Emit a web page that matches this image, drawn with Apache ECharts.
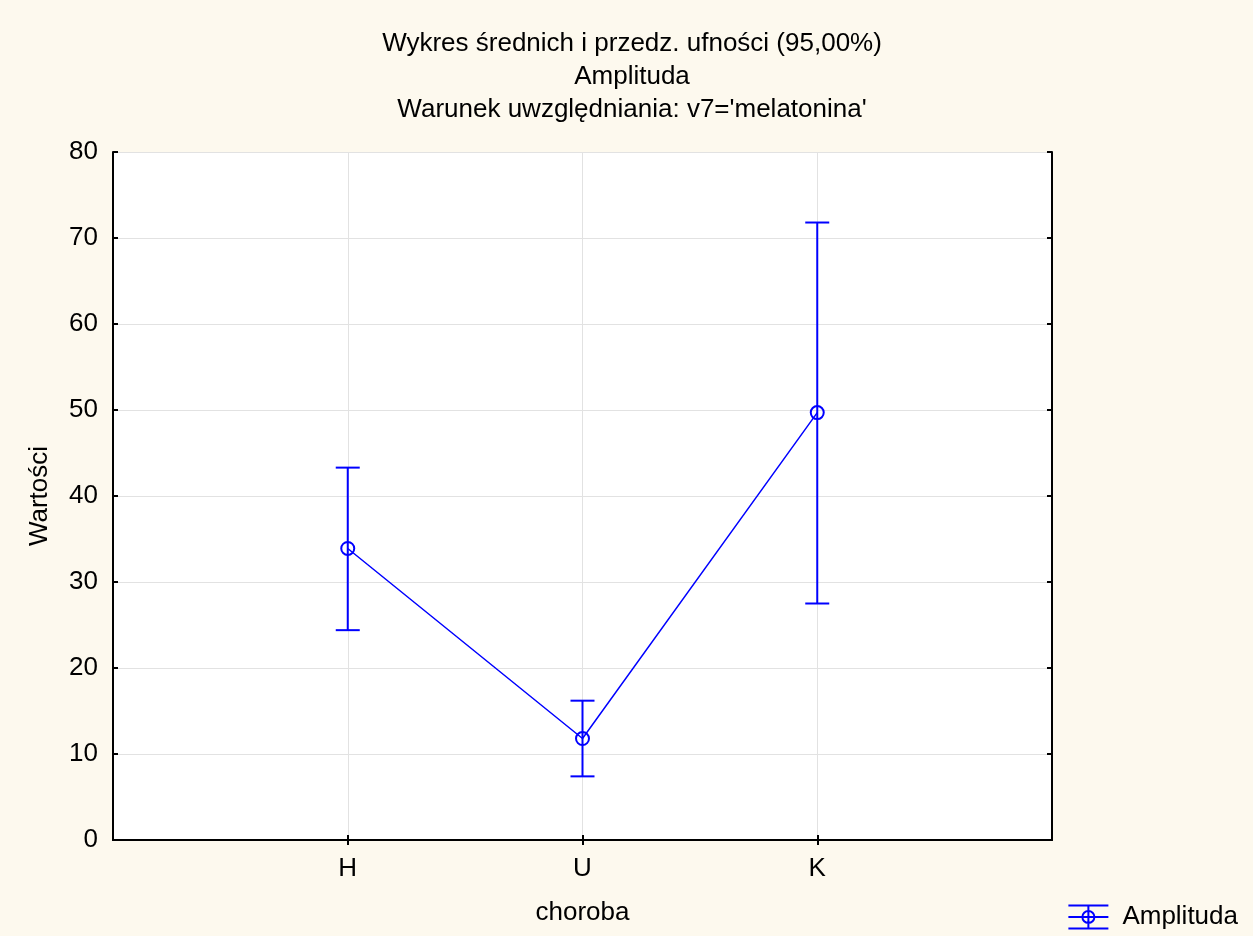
<!DOCTYPE html>
<html>
<head>
<meta charset="utf-8">
<script src="https://cdn.jsdelivr.net/npm/echarts@6/dist/echarts.min.js"></script>
<style>
    html, body { margin: 0; padding: 0; background: #fdf9ee; }
    #ET1 { width: 1253px; height: 936px; }
</style>
</head>
<body>
<div id="ET1"></div>
<script>
var categories = ['H', 'U', 'K'];
var means = [33.9, 11.8, 49.7];
var lower = [24.4, 7.4, 27.5];
var upper = [43.3, 16.2, 71.8];
var yTicks = [0, 10, 20, 30, 40, 50, 60, 70, 80];

~function () {
    var myChart = echarts.init(ET1);
    // pad categories so the points sit at 1/4, 2/4, 3/4 of the width
    var axisCats = [''].concat(categories).concat(['']);
    var font = 'Liberation Sans, Arial, sans-serif';
    var blue = '#0000ff';
    var lineData = means.map(function (v, i) { return [i + 1, v]; });
    var errData = means.map(function (v, i) { return [i + 1, lower[i], upper[i]]; });
    var legendIcon = 'path://M0,1 L40,1 M0,24 L40,24 M0,12.5 L40,12.5 M20,1 L20,24 M26,12.5 A6,6 0 1,1 14,12.5 A6,6 0 1,1 26,12.5';
    var inner = function (i) { return i > 0 && i < axisCats.length - 1; };

    var option = {
        backgroundColor: '#fdf9ee',
        animation: false,
        title: {
            text: 'Wykres średnich i przedz. ufności (95,00%)\nAmplituda\nWarunek uwzględniania: v7=\'melatonina\'',
            left: 627,
            top: 22,
            textAlign: 'center',
            textStyle: {
                fontFamily: font,
                fontSize: 26,
                fontWeight: 'normal',
                color: '#000',
                lineHeight: 33
            }
        },
        legend: {
            right: 10,
            bottom: 0,
            data: [{name: 'Amplituda', icon: legendIcon}],
            itemWidth: 40,
            itemHeight: 24,
            itemGap: 6,
            itemStyle: {color: 'none', borderColor: blue, borderWidth: 2},
            textStyle: {fontFamily: font, fontSize: 26, color: '#000', padding: [0, 0, 0, 9]},
            selectedMode: false
        },
        grid: {
            left: 113,
            right: 201,
            top: 152,
            bottom: 96,
            show: true,
            backgroundColor: '#fff',
            borderWidth: 0
        },
        xAxis: [
            {
                type: 'category',
                data: axisCats,
                boundaryGap: false,
                name: 'choroba',
                nameLocation: 'middle',
                nameGap: 60,
                nameTextStyle: {fontFamily: font, fontSize: 26, color: '#000'},
                axisLine: {lineStyle: {color: '#000', width: 2}},
                axisTick: {inside: true, length: 5, lineStyle: {color: '#000', width: 2}, interval: inner},
                axisLabel: {fontFamily: font, fontSize: 26, color: '#000', margin: 16, interval: 0},
                splitLine: {show: true, lineStyle: {color: '#e2e2e2', width: 1}, interval: inner}
            },
            {
                type: 'category',
                data: axisCats,
                boundaryGap: false,
                position: 'top',
                axisLine: {lineStyle: {color: '#000', width: 2}},
                axisTick: {inside: true, length: 5, lineStyle: {color: '#000', width: 2}, interval: inner},
                axisLabel: {show: false},
                splitLine: {show: false}
            }
        ],
        yAxis: [
            {
                type: 'value',
                min: yTicks[0],
                max: yTicks[yTicks.length - 1],
                interval: 10,
                name: 'Wartości',
                nameLocation: 'middle',
                nameGap: 60,
                nameTextStyle: {fontFamily: font, fontSize: 26, color: '#000'},
                axisLine: {show: true, lineStyle: {color: '#000', width: 2}},
                axisTick: {show: true, inside: true, length: 5, lineStyle: {color: '#000', width: 2}},
                axisLabel: {fontFamily: font, fontSize: 26, color: '#000', margin: 15},
                splitLine: {show: true, lineStyle: {color: '#e2e2e2', width: 1}}
            },
            {
                type: 'value',
                min: yTicks[0],
                max: yTicks[yTicks.length - 1],
                interval: 10,
                position: 'right',
                axisLine: {show: true, lineStyle: {color: '#000', width: 2}},
                axisTick: {show: true, inside: true, length: 5, lineStyle: {color: '#000', width: 2}},
                axisLabel: {show: false},
                splitLine: {show: false}
            }
        ],
        series: [
            {
                name: 'Amplituda',
                type: 'custom',
                data: errData,
                z: 2,
                renderItem: function (params, api) {
                    var x = api.value(0);
                    var lo = api.coord([x, api.value(1)]);
                    var hi = api.coord([x, api.value(2)]);
                    var hw = 12;
                    var style = {stroke: blue, lineWidth: 2};
                    return {
                        type: 'group',
                        children: [
                            {type: 'line', shape: {x1: lo[0], y1: lo[1], x2: hi[0], y2: hi[1]}, style: style},
                            {type: 'line', shape: {x1: hi[0] - hw, y1: hi[1], x2: hi[0] + hw, y2: hi[1]}, style: style},
                            {type: 'line', shape: {x1: lo[0] - hw, y1: lo[1], x2: lo[0] + hw, y2: lo[1]}, style: style}
                        ]
                    };
                }
            },
            {
                name: 'Amplituda',
                type: 'line',
                data: lineData,
                z: 3,
                symbol: 'circle',
                symbolSize: 13,
                lineStyle: {color: blue, width: 1.5},
                itemStyle: {color: 'rgba(0,0,0,0)', borderColor: blue, borderWidth: 2}
            }
        ]
    };
    myChart.setOption(option);
}();
</script>
</body>
</html>
